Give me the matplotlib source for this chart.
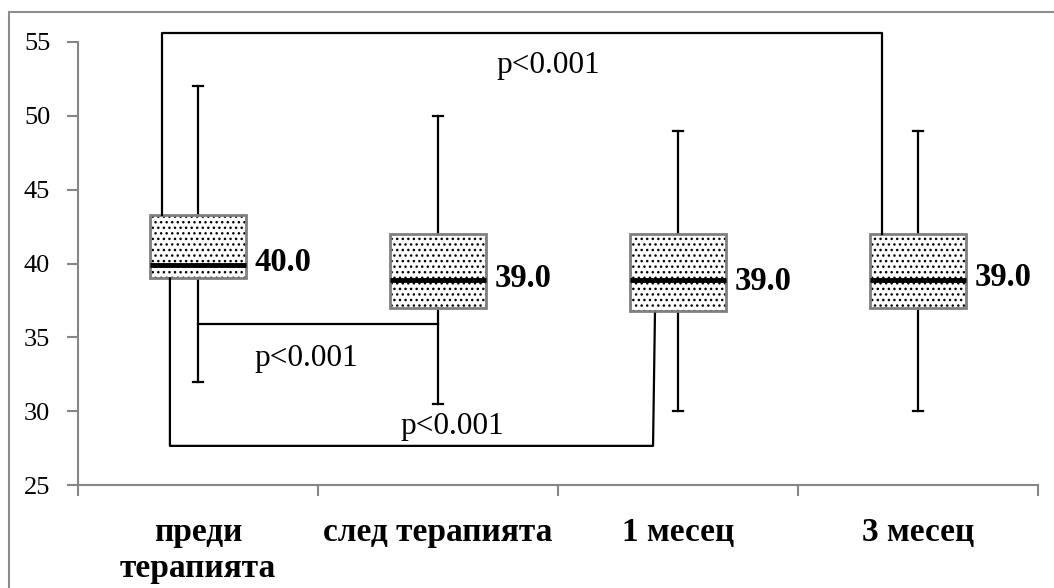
import matplotlib
matplotlib.use('Agg')
import matplotlib.pyplot as plt
from matplotlib.patches import PathPatch, Rectangle
import numpy as np

# ---- data ----
categories = ['преди\nтерапията', 'след терапията', '1 месец', '3 месец']
q1 = [39.0, 37.0, 36.8, 37.0]
medians = [39.9, 38.85, 38.85, 38.85]
q3 = [43.3, 42.0, 42.0, 42.0]
whisker_low = [32.0, 30.5, 30.0, 30.0]
whisker_high = [52.0, 50.0, 49.0, 49.0]
median_labels = ['40.0', '39.0', '39.0', '39.0']
median_label_y = [40.1, 39.0, 38.8, 39.05]
p_labels = ['p<0.001', 'p<0.001', 'p<0.001']
y_ticks = [25, 30, 35, 40, 45, 50, 55]

plt.rcParams['font.family'] = ['Liberation Serif', 'DejaVu Serif']
plt.rcParams['hatch.linewidth'] = 1.0

W, H = 1054, 588
fig = plt.figure(figsize=(W / 100, H / 100), dpi=100)
ax = fig.add_axes([78 / W, 1 - 485 / H, (1038 - 78) / W, (485 - 42) / H])

pos = np.arange(len(categories))
stats = [dict(med=m, q1=a, q3=b, whislo=lo, whishi=hi, fliers=[])
         for m, a, b, lo, hi in zip(medians, q1, q3, whisker_low, whisker_high)]

bp = ax.bxp(stats, positions=pos, widths=0.4, patch_artist=True, showfliers=False,
            capwidths=0.045,
            boxprops=dict(facecolor='white', edgecolor='black', linewidth=0, hatch='...'),
            medianprops=dict(color='black', linewidth=3.5, solid_capstyle='butt'),
            whiskerprops=dict(color='black', linewidth=1.6),
            capprops=dict(color='black', linewidth=1.6))
for b in bp['boxes']:
    ax.add_patch(PathPatch(b.get_path(), facecolor='none', edgecolor='#808080',
                           linewidth=2, zorder=2.05))
for m in bp['medians']:
    m.set_zorder(2.2)

# median value labels
for i, (lab, y) in enumerate(zip(median_labels, median_label_y)):
    ax.text(pos[i] + 0.235, y, lab, fontsize=23.5, fontweight='bold', ha='left', va='center')

# significance brackets
lk = dict(color='black', linewidth=1.6, clip_on=False, zorder=3)
# 1 vs 4 (top)
xl, xr = pos[0] - 0.15, pos[3] - 0.15
ax.plot([xl, xl, xr, xr], [q3[0], 55.6, 55.6, q3[3]], **lk)
ax.text((pos[0] + pos[3]) / 2 - 0.04, 53.4, p_labels[0], fontsize=22.5, ha='center', va='center')
# 1 vs 2 (middle)
ax.plot([pos[0], pos[1]], [35.9, 35.9], **lk)
ax.text((pos[0] + pos[1]) / 2 - 0.05, 33.6, p_labels[1], fontsize=22.5, ha='center', va='center')
# 1 vs 3 (bottom)
xl, xr = pos[0] - 0.117, pos[2] - 0.104
ax.plot([xl, xl, xr, xr + 0.008], [q1[0], 27.65, 27.65, 36.6], **lk)
ax.text(1.06, 28.95, p_labels[2], fontsize=22.5, ha='center', va='center')

# axes styling
ax.set_xlim(-0.5, len(categories) - 0.5)
ax.set_ylim(y_ticks[0], y_ticks[-1])
ax.set_yticks(y_ticks)
ax.set_yticklabels([str(t) for t in y_ticks], fontsize=19)
ax.set_xticks(np.arange(-0.5, len(categories), 1.0))
ax.set_xticklabels([])
ax.set_xticks(pos, minor=True)
ax.set_xticklabels(categories, minor=True, fontsize=24, fontweight='bold')
gray = '#868686'
ax.tick_params(axis='y', length=8, width=1.5, color=gray, pad=12)
ax.tick_params(axis='x', which='major', length=8, width=1.5, color=gray)
ax.tick_params(axis='x', which='minor', length=0, pad=23)
for s in ['top', 'right']:
    ax.spines[s].set_visible(False)
for s in ['left', 'bottom']:
    ax.spines[s].set_color(gray)
    ax.spines[s].set_linewidth(1.5)
ax.set_facecolor('none')

# outer chart border (clipped at right and bottom, as in reference)
fig.patches.append(Rectangle((8.5 / W, -0.1), 2, (1 - 12.5 / H) + 0.1,
                             transform=fig.transFigure, fill=False,
                             edgecolor='#8c8c8c', linewidth=1.5))

fig.savefig('out.png', dpi=100)
